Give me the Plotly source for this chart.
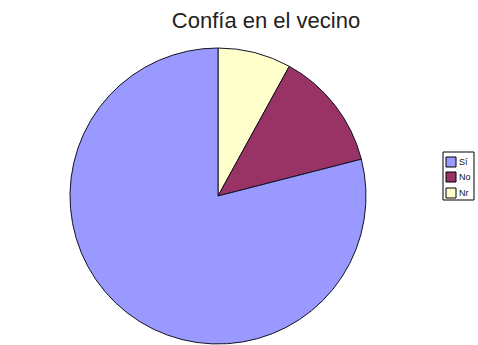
import plotly.graph_objects as go

# Encuesta: confianza en el vecino
labels = ["Sí", "No", "Nr"]
values = [79, 13, 8]
colors = ["#9999FF", "#993366", "#FFFFCC"]

W, H = 478, 345
FONT = "Liberation Sans, Arial, sans-serif"

# Slices are laid out clockwise from 12 o'clock in reverse order (Nr, No, Sí)
fig = go.Figure(
    go.Pie(
        labels=labels[::-1],
        values=values[::-1],
        sort=False,
        direction="clockwise",
        rotation=0,
        textinfo="none",
        hoverinfo="label+percent",
        showlegend=False,
        marker=dict(colors=colors[::-1], line=dict(color="#111122", width=1)),
        domain=dict(x=[70 / W, 366 / W], y=[1 / H, 297 / H]),
    )
)

# Compact boxed legend on the right (pixel layout converted to paper units)
def px(x):
    return x / W

def py(y):
    return 1 - y / H

box = dict(x0=443, x1=474, y0=152, y1=200)
fig.add_shape(type="rect", xref="paper", yref="paper",
              x0=px(box["x0"]), x1=px(box["x1"]), y0=py(box["y1"]), y1=py(box["y0"]),
              line=dict(color="#000000", width=1), fillcolor="white")
row_y = [162, 177, 193]
for lab, col, yc in zip(labels, colors, row_y):
    fig.add_shape(type="rect", xref="paper", yref="paper",
                  x0=px(446), x1=px(456), y0=py(yc + 5), y1=py(yc - 5),
                  line=dict(color="#000000", width=1), fillcolor=col)
    fig.add_annotation(x=px(457), y=py(yc), xref="paper", yref="paper",
                       text=lab, showarrow=False, xanchor="left", yanchor="middle",
                       font=dict(family=FONT, size=9, color="#111111"))

fig.update_layout(
    width=W,
    height=H,
    margin=dict(l=0, r=0, t=0, b=0),
    paper_bgcolor="white",
    plot_bgcolor="white",
    showlegend=False,
    title=dict(
        text="Confía en el vecino",
        x=266 / W,
        xanchor="center",
        y=1 - 20 / H,
        yanchor="middle",
        font=dict(family=FONT, size=22, color="#222222"),
    ),
)

fig.write_html("out.html")
